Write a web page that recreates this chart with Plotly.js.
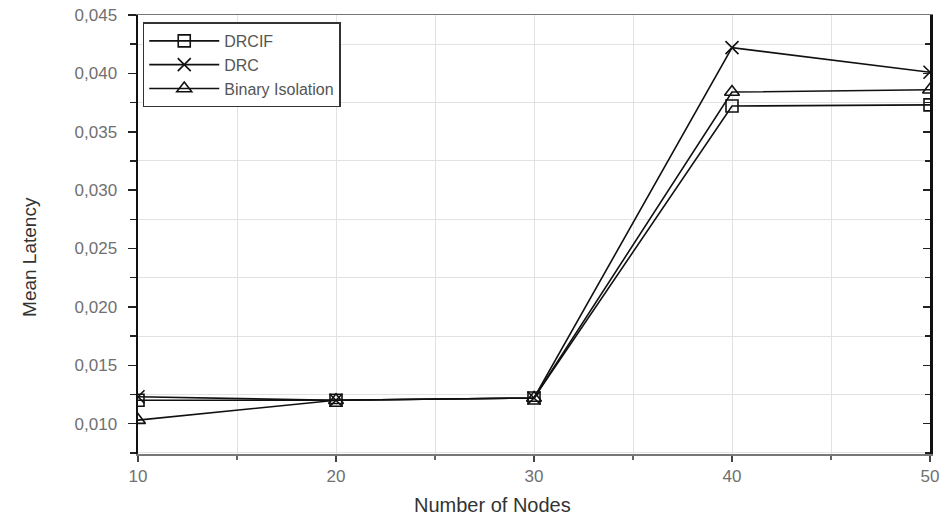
<!DOCTYPE html>
<html>
<head>
<meta charset="utf-8">
<script src="https://cdn.plot.ly/plotly-3.0.1.min.js"></script>
<style>html,body{margin:0;padding:0;background:#fff;}#chart{width:947px;height:521px;}</style>
</head>
<body>
<div id="chart"></div>
<script>
const nodes = [10, 20, 30, 40, 50];
const drcif = [0.0120, 0.0120, 0.0122, 0.0372, 0.0373];
const drc = [0.0123, 0.0120, 0.0122, 0.0422, 0.0401];
const binaryIsolation = [0.0103, 0.0120, 0.0122, 0.0384, 0.0386];
const seriesNames = ['DRCIF', 'DRC', 'Binary Isolation'];
const yTicks = [0.010, 0.015, 0.020, 0.025, 0.030, 0.035, 0.040, 0.045];
const xTitle = 'Number of Nodes';
const yTitle = 'Mean Latency';

const lineStyle = {color: '#111', width: 1.6};
const traces = [
  {x: nodes, y: drcif, name: seriesNames[0], mode: 'lines+markers', line: lineStyle,
   marker: {symbol: 'square-open', size: 12, color: '#111', line: {width: 1.6}}},
  {x: nodes, y: drc, name: seriesNames[1], mode: 'lines+markers', line: lineStyle,
   marker: {symbol: 'x-thin-open', size: 13, color: '#111', line: {width: 1.6}}},
  {x: nodes, y: binaryIsolation, name: seriesNames[2], mode: 'lines+markers', line: lineStyle,
   marker: {symbol: 'triangle-up-open', size: 13, color: '#111', line: {width: 1.6}}},
  {x: nodes, y: drcif, yaxis: 'y2', showlegend: false, hoverinfo: 'skip', mode: 'lines',
   line: {color: 'rgba(0,0,0,0)', width: 0}}
];

const fam = 'Liberation Sans, Arial, sans-serif';
const tickFont = {family: fam, size: 17, color: '#707070'};
const layout = {
  width: 947, height: 521,
  margin: {l: 138, r: 17, t: 15, b: 67},
  paper_bgcolor: '#fff', plot_bgcolor: '#fff',
  separators: ',.',
  showlegend: true,
  legend: {x: 0.006, y: 0.983, xanchor: 'left', yanchor: 'top', bgcolor: '#fff',
    bordercolor: '#333', borderwidth: 1.5,
    font: {family: fam, size: 16, color: '#555'},
    tracegroupgap: 0, itemwidth: 70},
  xaxis: {range: [10, 50], tickvals: nodes, ticktext: nodes.map(String),
    ticks: 'outside', ticklen: 6, tickwidth: 1.5, tickcolor: '#444',
    showgrid: false, zeroline: false,
    showline: true, linecolor: '#777', linewidth: 1.5, mirror: true,
    tickfont: tickFont,
    minor: {dtick: 5, tick0: 10, ticks: 'outside', ticklen: 4, tickcolor: '#666',
      showgrid: true, gridcolor: '#e2e2e2', gridwidth: 1}},
  yaxis: {range: [0.0074, 0.045], tickvals: yTicks, tickformat: '.3f',
    ticks: 'outside', ticklen: 8, tickwidth: 1.5, tickcolor: '#222',
    ticklabelstandoff: 7,
    showgrid: false, zeroline: false,
    showline: true, linecolor: '#111', linewidth: 2.5,
    tickfont: tickFont,
    minor: {dtick: 0.005, tick0: 0.0025, ticks: 'outside', ticklen: 6, tickcolor: '#222',
      showgrid: true, gridcolor: '#e2e2e2', gridwidth: 1}},
  yaxis2: {overlaying: 'y', side: 'right', range: [0.0074, 0.045], tickvals: yTicks,
    showticklabels: false, ticks: 'inside', ticklen: 7, tickwidth: 1.5, tickcolor: '#222',
    showgrid: false, zeroline: false, showline: true, linecolor: '#111', linewidth: 2.5,
    minor: {dtick: 0.005, tick0: 0.0025, ticks: 'inside', ticklen: 5, tickcolor: '#222'}},
  annotations: [
    {text: xTitle, xref: 'paper', yref: 'paper', x: 0.447, y: -0.116,
     xanchor: 'center', yanchor: 'middle', showarrow: false,
     font: {family: fam, size: 20, color: '#333'}},
    {text: yTitle, xref: 'paper', yref: 'paper', x: -0.137, y: 0.45,
     xanchor: 'center', yanchor: 'middle', showarrow: false, textangle: -90,
     font: {family: fam, size: 19, color: '#333'}}
  ]
};

Plotly.newPlot('chart', traces, layout, {displayModeBar: false, staticPlot: true});
</script>
</body>
</html>
